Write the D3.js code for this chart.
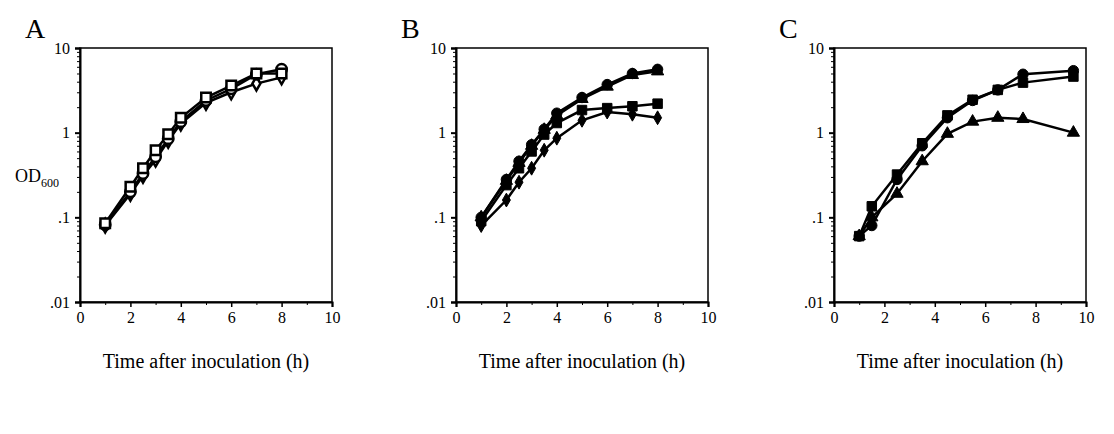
<!DOCTYPE html>
<html>
<head>
<meta charset="utf-8">
<script src="https://cdn.jsdelivr.net/npm/d3@7"></script>
<style>
  body { margin: 0; background: #fff; }
  text, tspan { font-family: "Liberation Serif", "Times New Roman", serif; fill: #000; }
</style>
</head>
<body>
<div id="chart"></div>
<script>
// time points (h)
var hoursAB = [1, 2, 2.5, 3, 3.5, 4, 5, 6, 7, 8];
var hoursC = [1, 1.5, 2.5, 3.5, 4.5, 5.5, 6.5, 7.5, 9.5];

// panel A (open symbols)
var aSquare  = [0.085, 0.23, 0.38, 0.62, 0.96, 1.5, 2.6, 3.6, 5.0, 5.0];
var aCircle  = [0.082, 0.2, 0.33, 0.52, 0.85, 1.35, 2.4, 3.3, 4.9, 5.6];
var aDiamond = [0.08, 0.19, 0.31, 0.48, 0.8, 1.28, 2.25, 3.0, 3.8, 4.5];

// panel B (filled symbols)
var bCircle   = [0.1, 0.28, 0.46, 0.72, 1.1, 1.7, 2.6, 3.7, 5.0, 5.6];
var bTriangle = [0.1, 0.27, 0.44, 0.7, 1.08, 1.6, 2.5, 3.5, 4.8, 5.3];
var bSquare   = [0.09, 0.24, 0.38, 0.6, 0.95, 1.3, 1.85, 1.95, 2.05, 2.2];
var bDiamond  = [0.08, 0.16, 0.26, 0.38, 0.62, 0.86, 1.4, 1.75, 1.65, 1.5];

// panel C (filled symbols)
var cCircle   = [0.06, 0.08, 0.28, 0.7, 1.5, 2.4, 3.2, 4.9, 5.4];
var cSquare   = [0.06, 0.135, 0.32, 0.75, 1.6, 2.45, 3.2, 3.9, 4.6];
var cTriangle = [0.06, 0.1, 0.19, 0.46, 0.97, 1.35, 1.5, 1.45, 1.0];

var panelLabels = ["A", "B", "C"];
var xTicks = [0, 2, 4, 6, 8, 10];
var yTicks = [10, 1, 0.1, 0.01];
var yTickLabels = ["10", "1", ".1", ".01"];

var panels = [
    {hours: hoursAB, series: [
        {v: aDiamond, shape: "diamond", fill: "#fff"},
        {v: aCircle, shape: "circle", fill: "#fff"},
        {v: aSquare, shape: "square", fill: "#fff"}]},
    {hours: hoursAB, series: [
        {v: bDiamond, shape: "diamond", fill: "#000"},
        {v: bSquare, shape: "square", fill: "#000"},
        {v: bTriangle, shape: "triangle", fill: "#000"},
        {v: bCircle, shape: "circle", fill: "#000"}]},
    {hours: hoursC, series: [
        {v: cTriangle, shape: "triangle", fill: "#000"},
        {v: cSquare, shape: "square", fill: "#000"},
        {v: cCircle, shape: "circle", fill: "#000"}]}
];

var w = 1114;
var h = 434;
var panelW = 252;
var panelLeft = [80, 456, 834];
var plotTop = 48, plotBottom = 302;

var shapes = {
    circle: {type: d3.symbolCircle, size: 85},
    square: {type: d3.symbolSquare, size: 90},
    triangle: {type: d3.symbolTriangle, size: 65},
    diamond: {type: d3.symbolDiamond, size: 55}
};

var svg = d3.select("#chart")
            .append("svg")
            .attr("width", w)
            .attr("height", h);

var y = d3.scaleLog()
            .domain([0.01, 10])
            .range([plotBottom, plotTop]);

//minor ticks for log axis
var minorTicks = [];
for (var d = 0.01; d < 10; d *= 10) {
    for (var k = 2; k <= 9; k++) minorTicks.push(+(d * k).toPrecision(3));
}

panels.forEach(function(p, pi) {
    var x = d3.scaleLinear()
                .domain([0, 10])
                .range([panelLeft[pi], panelLeft[pi] + panelW]);

    var g = svg.append("g");

    //frame
    g.append("rect")
        .attr("x", x(0))
        .attr("y", plotTop)
        .attr("width", x(10) - x(0))
        .attr("height", plotBottom - plotTop)
        .attr("fill", "none")
        .attr("stroke", "#000")
        .attr("stroke-width", 1.5);

    //y axis
    var yAxis = d3.axisLeft(y)
                    .tickValues(yTicks)
                    .tickFormat((d, i) => yTickLabels[i])
                    .tickSize(5)
                    .tickPadding(5);
    var ya = g.append("g")
        .attr("transform", "translate(" + x(0) + ",0)")
        .call(yAxis);
    ya.select(".domain").attr("stroke-width", 2);
    ya.selectAll(".tick line").attr("stroke-width", 2);
    ya.selectAll("text").style("font-size", "16px").style("font-family", "Liberation Serif");

    g.append("g")
        .attr("transform", "translate(" + x(0) + ",0)")
        .call(d3.axisLeft(y).tickValues(minorTicks).tickSize(3).tickFormat(""))
        .call(a => a.select(".domain").remove());

    //x axis
    var xAxis = d3.axisBottom(x)
                    .tickValues(xTicks)
                    .tickSize(5)
                    .tickPadding(5);
    var xa = g.append("g")
        .attr("transform", "translate(0," + plotBottom + ")")
        .call(xAxis);
    xa.select(".domain").attr("stroke-width", 2);
    xa.selectAll(".tick line").attr("stroke-width", 1.5);
    xa.selectAll("text").style("font-size", "16px").style("font-family", "Liberation Serif");

    g.append("g")
        .attr("transform", "translate(0," + plotBottom + ")")
        .call(d3.axisBottom(x).tickValues(d3.range(1, 10, 2)).tickSize(3).tickFormat(""))
        .call(a => a.select(".domain").remove());

    //axis title
    g.append("text")
        .attr("x", (x(0) + x(10)) / 2)
        .attr("y", plotBottom + 66)
        .attr("text-anchor", "middle")
        .style("font-size", "20px")
        .text("Time after inoculation (h)");

    //panel letter
    g.append("text")
        .attr("x", x(0) - 55)
        .attr("y", 38)
        .style("font-size", "28px")
        .text(panelLabels[pi]);

    //series
    var line = d3.line()
                .x((d, i) => x(p.hours[i]))
                .y(d => y(d));

    p.series.forEach(function(s) {
        g.append("path")
            .datum(s.v)
            .attr("d", line)
            .attr("fill", "none")
            .attr("stroke", "#000")
            .attr("stroke-width", 2.5);
    });

    p.series.forEach(function(s) {
        var sym = d3.symbol().type(shapes[s.shape].type).size(shapes[s.shape].size);
        g.selectAll(null)
            .data(s.v)
            .join("path")
            .attr("transform", (d, i) => "translate(" + x(p.hours[i]) + "," + y(d) + ")")
            .attr("d", sym)
            .attr("fill", s.fill)
            .attr("stroke", "#000")
            .attr("stroke-width", s.fill == "#fff" ? 2.5 : 1);
    });
});

//OD600 label
var od = svg.append("text")
    .attr("x", 15)
    .attr("y", 182)
    .attr("fill", "#000")
    .style("font-size", "18px");
od.append("tspan").text("OD");
od.append("tspan")
    .attr("dy", 5)
    .attr("fill", "#000")
    .style("fill", "#000")
    .style("font-size", "12px")
    .text("600");
</script>
</body>
</html>
